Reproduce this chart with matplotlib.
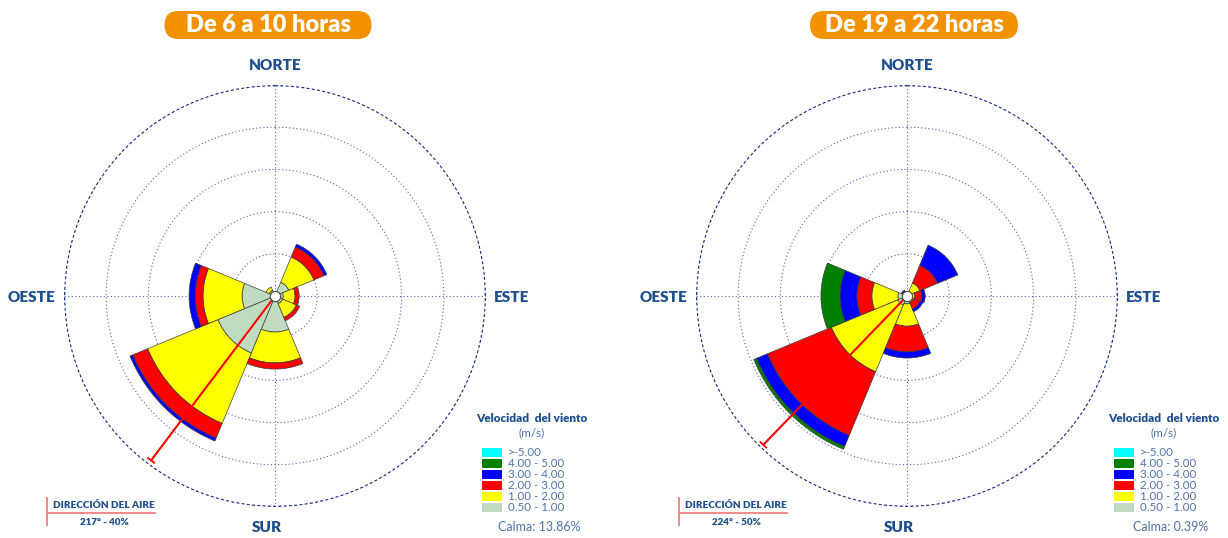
import numpy as np
import matplotlib.pyplot as plt
from matplotlib.patches import FancyBboxPatch, Rectangle

plt.rcParams['font.family'] = ['Lato', 'DejaVu Sans']

W, H = 1228, 538

directions = [0, 45, 90, 135, 180, 225, 270, 315]  # N, NE, E, SE, S, SW, W, NW
speed_labels = ['0.50 - 1.00', '1.00 - 2.00', '2.00 - 3.00', '3.00 - 4.00', '4.00 - 5.00', '>-5.00']
speed_colors = ['#c0dcc0', '#ffff00', '#ff0000', '#0000ff', '#008000', '#00ffff']

# frecuencias (%) por dirección, de 6 a 10 horas
morning_050_100 = [0.0, 2.9, 1.6, 1.6, 7.0, 12.0, 6.4, 1.2]
morning_100_200 = [0.0, 5.3, 2.3, 2.9, 6.0, 14.8, 7.6, 0.7]
morning_200_300 = [0.0, 2.1, 0.8, 0.7, 1.2, 3.1, 1.5, 0.0]
morning_300_400 = [0.0, 0.6, 0.0, 0.0, 0.0, 0.6, 1.2, 0.0]
morning_400_500 = [0.0, 0.0, 0.0, 0.0, 0.0, 0.0, 0.0, 0.0]
morning_500_up = [0.0, 0.0, 0.0, 0.0, 0.0, 0.0, 0.0, 0.0]

# frecuencias (%) por dirección, de 19 a 22 horas
night_050_100 = [0.0, 0.0, 0.0, 0.0, 1.9, 2.4, 2.2, 0.5]
night_100_200 = [0.0, 3.4, 1.9, 1.7, 5.4, 17.4, 6.3, 0.5]
night_200_300 = [0.0, 4.6, 1.7, 1.7, 6.2, 16.7, 3.6, 0.2]
night_300_400 = [0.0, 5.3, 0.8, 0.7, 1.5, 2.9, 4.1, 0.3]
night_400_500 = [0.0, 0.0, 0.0, 0.0, 0.0, 0.7, 4.6, 0.0]
night_500_up = [0.0, 0.0, 0.0, 0.0, 0.0, 0.0, 0.0, 0.0]

titles = ['De 6 a 10 horas', 'De 19 a 22 horas']
calms = ['13.86%', '0.39%']
air_dir = [217, 224]
air_pct = [40, 50]
r_max = [41, 51]

NAVY = '#1c4f8c'
LIGHT = '#4f74a8'
ORANGE = '#f39200'
GRID = '#5f5fb0'

fig = plt.figure(figsize=(W / 100, H / 100), dpi=100)


def draw_rose(ax, bins, rmax, dir_deg, pct):
    ax.set_theta_zero_location('N')
    ax.set_theta_direction(-1)
    ax.set_ylim(0, rmax)
    ax.set_axis_off()

    full = np.linspace(0, 2 * np.pi, 721)
    for k in range(1, 5):
        ax.plot(full, np.full_like(full, rmax * k / 5), color=GRID,
                lw=0.8, ls=(0, (1, 2.2)), zorder=1)
    ax.plot(full, np.full_like(full, rmax * 0.997), color='#26338a',
            lw=1.0, ls=(0, (2.2, 1.6)), zorder=1)
    for a in [0, 90, 180, 270]:
        ax.plot([np.deg2rad(a)] * 2, [0, rmax], color=GRID,
                lw=0.8, ls=(0, (1, 2.2)), zorder=1)

    theta = np.deg2rad(directions)
    bottom = np.zeros(len(directions))
    for vals, col in zip(bins, speed_colors):
        vals = np.array(vals)
        m = vals > 0
        if m.any():
            ax.bar(theta[m], vals[m], width=np.deg2rad(45), bottom=bottom[m],
                   color=col, edgecolor='#3c3c3c', linewidth=0.5, zorder=2)
        bottom += vals

    th = np.deg2rad(dir_deg)
    ax.plot([th, th], [0, pct], color='red', lw=1.5, zorder=4)
    h = rmax * 4 / 211
    ends = [th - np.arctan(h / pct), th + np.arctan(h / pct)]
    ax.plot(ends, [np.hypot(pct, h)] * 2, color='red', lw=1.3, zorder=4)
    ax.scatter([0], [0], s=55, c='white', edgecolors='#444444', linewidths=0.8, zorder=5)


panels = [
    [morning_050_100, morning_100_200, morning_200_300, morning_300_400, morning_400_500, morning_500_up],
    [night_050_100, night_100_200, night_200_300, night_300_400, night_400_500, night_500_up],
]

R = 211
centers = [(275, 296), (907, 296)]
for i, (cx, cy) in enumerate(centers):
    ax = fig.add_axes([(cx - R) / W, (H - cy - R) / H, 2 * R / W, 2 * R / H], projection='polar')
    draw_rose(ax, panels[i], r_max[i], air_dir[i], air_pct[i])

# capa de textos en pixeles
ov = fig.add_axes([0, 0, 1, 1])
ov.set_xlim(0, W)
ov.set_ylim(H, 0)
ov.set_axis_off()
ov.patch.set_visible(False)

badge_centers = [268, 914]
badge_widths = [207, 208]
for i, (cx, cy) in enumerate(centers):
    dx = cx - 275
    bc, bw = badge_centers[i], badge_widths[i]
    ov.add_patch(FancyBboxPatch((bc - bw / 2, 11), bw, 28,
                                boxstyle='round,pad=0,rounding_size=14',
                                fc=ORANGE, ec='none'))
    ov.text(bc, 25.5, titles[i], ha='center', va='center', color='white',
            fontsize=17, fontweight='heavy')

    ov.text(cx, 66, 'NORTE', ha='center', va='center', color=NAVY, fontsize=11, fontweight='heavy')
    ov.text(cx - 8, 528, 'SUR', ha='center', va='center', color=NAVY, fontsize=11, fontweight='heavy')
    ov.text(32 + dx, 297, 'OESTE', ha='center', va='center', color=NAVY, fontsize=11, fontweight='heavy')
    ov.text(512 + dx, 297, 'ESTE', ha='center', va='center', color=NAVY, fontsize=11, fontweight='heavy')

    # leyenda
    ov.text(532 + dx, 418, 'Velocidad  del viento', ha='center', va='center',
            color=NAVY, fontsize=8.5, fontweight='heavy')
    ov.text(532 + dx, 433, '(m/s)', ha='center', va='center', color=LIGHT, fontsize=8.5)
    for j in range(6):
        k = 5 - j
        y = 448 + j * 11
        ov.add_patch(Rectangle((482 + dx, y), 20, 9, fc=speed_colors[k], ec='none'))
        ov.text(508 + dx, y + 4.8, speed_labels[k], ha='left', va='center',
                color=LIGHT, fontsize=8.3)
    ov.text(539 + dx, 527, 'Calma: ' + calms[i], ha='center', va='center', color=LIGHT, fontsize=9)

    # dirección del aire
    ov.plot([47 + dx, 47 + dx], [498, 525], color='#f08080', lw=1.3)
    ov.plot([47 + dx, 155 + dx], [513, 513], color='#f08080', lw=1.3)
    ov.text(104 + dx, 505, 'DIRECCIÓN DEL AIRE', ha='center', va='center',
            color=NAVY, fontsize=7.2, fontweight='heavy')
    ov.text(104 + dx, 522.5, f'{air_dir[i]}° - {air_pct[i]}%', ha='center', va='center',
            color=NAVY, fontsize=7, fontweight='heavy')

fig.savefig('out.png', dpi=100)
